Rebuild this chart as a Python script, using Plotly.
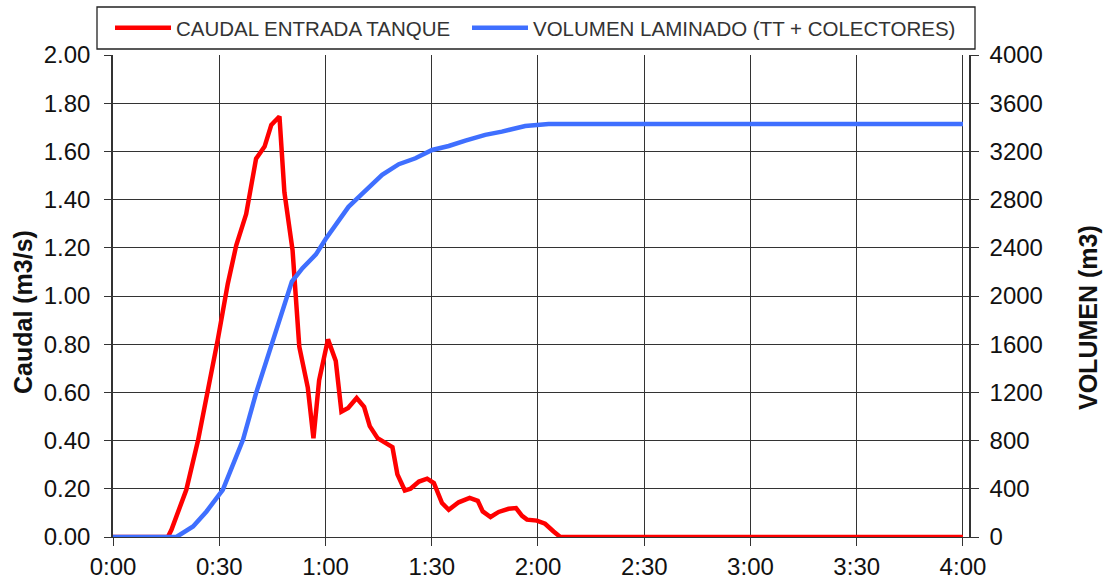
import plotly.graph_objects as go

# time in minutes
t_caudal = [0, 15.5, 16.5, 20.7, 24, 26.8, 29.6, 32.4, 34.8, 37.6, 40.4, 42.8, 44.7, 47, 48.4, 50.7, 52.6,
            55, 56.6, 58.2, 60.7, 62.9, 64.5, 66.4, 68.8, 70.9, 72.5, 74.7, 78.9, 80.3, 82.4, 84, 86.4,
            88.7, 90.6, 92.9, 94.8, 97.6, 100.7, 103, 104.4, 106.6, 108.9, 111.7, 113.8, 115.5, 116.9,
            119.7, 122, 124.4, 126.3, 240]
caudal = [0, 0, 0.03, 0.196, 0.40, 0.60, 0.82, 1.05, 1.21, 1.34, 1.57, 1.62, 1.71, 1.745, 1.43, 1.19, 0.79,
          0.62, 0.41, 0.65, 0.82, 0.73, 0.52, 0.535, 0.577, 0.54, 0.46, 0.41, 0.373, 0.26, 0.193, 0.20, 0.23,
          0.242, 0.224, 0.141, 0.113, 0.144, 0.162, 0.15, 0.106, 0.083, 0.104, 0.117, 0.12, 0.088, 0.072,
          0.068, 0.055, 0.023, 0, 0]

t_volumen = [0, 17.9, 22.6, 26.4, 31, 33.9, 36.7, 40.4, 44.2, 47.4, 50.5, 53.5, 57.3, 60.1, 63.9, 66.5,
             70.4, 76, 80.7, 85.4, 90.1, 94.8, 99.5, 105.1, 109.8, 116.4, 123, 240]
volumen = [0, 0, 88, 212, 392, 600, 807, 1194, 1553, 1858, 2120, 2231, 2345, 2475, 2640, 2740,
           2850, 3005, 3094, 3143, 3212, 3245, 3289, 3337, 3364, 3411, 3428, 3428]

x_tickvals = [0, 30, 60, 90, 120, 150, 180, 210, 240]
x_ticktext = ["0:00", "0:30", "1:00", "1:30", "2:00", "2:30", "3:00", "3:30", "4:00"]

name_caudal = "CAUDAL ENTRADA TANQUE"
name_volumen = "VOLUMEN LAMINADO (TT + COLECTORES)"

FONT = "Liberation Sans, Arial, sans-serif"
GRID = "#333333"

fig = go.Figure()
fig.add_trace(go.Scatter(x=t_caudal, y=caudal, mode="lines", name=name_caudal, legend="legend",
                         line=dict(color="#FF0000", width=4.5)))
fig.add_trace(go.Scatter(x=t_volumen, y=volumen, mode="lines", name=name_volumen, yaxis="y2",
                         legend="legend2", line=dict(color="#3F6FFF", width=4.5)))

L, R, T, B = 113, 136, 55, 46
W, H = 1105, 583
pw, ph = W - L - R, H - T - B

def px(x):
    return (x - L) / pw

def py(y):
    return (H - B - y) / ph

legend_common = dict(orientation="h", yanchor="middle", xanchor="left", itemwidth=56,
                     font=dict(family=FONT, size=20.5, color="#333"),
                     bgcolor="rgba(0,0,0,0)", borderwidth=0)

fig.update_layout(
    width=W, height=H,
    margin=dict(l=L, r=R, t=T, b=B, pad=0, autoexpand=False),
    paper_bgcolor="white", plot_bgcolor="white",
    font=dict(family=FONT, size=24, color="#111"),
    showlegend=True,
    legend=dict(x=px(110), y=py(28), **legend_common),
    legend2=dict(x=px(467), y=py(28), **legend_common),
    xaxis=dict(range=[0, 241.7], tickvals=x_tickvals, ticktext=x_ticktext,
               showgrid=True, gridcolor=GRID, gridwidth=1.3,
               showline=True, linecolor=GRID, linewidth=1.3,
               ticks="outside", ticklen=8, tickcolor=GRID, tickwidth=1.3,
               zeroline=False, tickfont=dict(size=24), automargin=False),
    yaxis=dict(range=[0, 2], dtick=0.2, tick0=0, tickformat=".2f",
               showgrid=True, gridcolor=GRID, gridwidth=1.3,
               showline=True, linecolor=GRID, linewidth=1.5,
               ticks="outside", ticklen=7, tickcolor=GRID, tickwidth=1.3,
               zeroline=False, tickfont=dict(size=24), ticklabelstandoff=9, automargin=False),
    yaxis2=dict(range=[0, 4000], dtick=400, tick0=0, overlaying="y", side="right",
                showgrid=False, showline=True, linecolor=GRID, linewidth=1.5,
                ticks="outside", ticklen=8, tickcolor=GRID, tickwidth=1.3,
                zeroline=False, tickfont=dict(size=24), ticklabelstandoff=6, automargin=False),
    shapes=[dict(type="rect", xref="paper", yref="paper",
                 x0=px(97), x1=px(975), y0=py(49), y1=py(7),
                 line=dict(color="#222", width=1.3), fillcolor="rgba(0,0,0,0)", layer="above")],
    annotations=[
        dict(text="<b>Caudal (m3/s)</b>", xref="paper", yref="paper", x=px(23), y=py(312),
             textangle=-90, showarrow=False, font=dict(size=25, color="#111"),
             xanchor="center", yanchor="middle"),
        dict(text="<b>VOLUMEN (m3)</b>", xref="paper", yref="paper", x=px(1088), y=py(318),
             textangle=-90, showarrow=False, font=dict(size=25, color="#111"),
             xanchor="center", yanchor="middle"),
    ],
)

fig.write_html("out.html")
